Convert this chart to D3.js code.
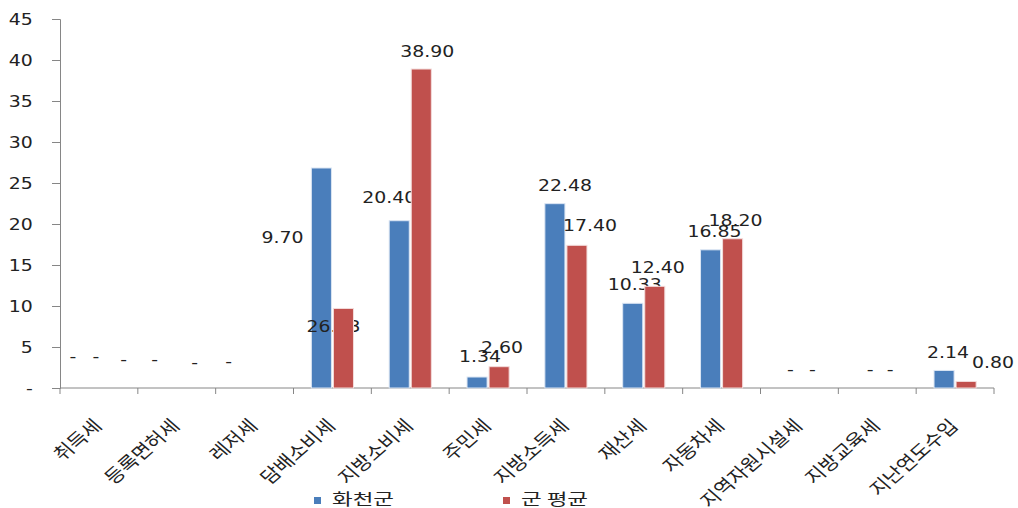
<!DOCTYPE html>
<html>
<head>
<meta charset="utf-8">
<script src="https://cdn.jsdelivr.net/npm/d3@7/dist/d3.min.js"></script>
<style>
	body { margin: 0; background: #fff; }
	svg { display: block; }
</style>
</head>
<body>
<svg width="1018" height="508"></svg>
<script>
var categories = ["취득세", "등록면허세", "레저세", "담배소비세", "지방소비세", "주민세", "지방소득세", "재산세", "자동차세", "지역자원시설세", "지방교육세", "지난연도수입"];
var seriesNames = ["화천군", "군 평균"];
var hwacheon = [0, 0, 0, 26.83, 20.40, 1.34, 22.48, 10.33, 16.85, 0, 0, 2.14];
var gunAvg = [0, 0, 0, 9.70, 38.90, 2.60, 17.40, 12.40, 18.20, 0, 0, 0.80];
var yTicks = [0, 5, 10, 15, 20, 25, 30, 35, 40, 45];
var colors = ["#4a7ebb", "#c0504d"];

// label nudges (pixels) - the source chart had hand-moved labels
var labelShift = [
	[[-15, -13], [-42, -10], [-49, -7], [12, 177], [-10, -5], [3, -2], [10, 0], [2, -1], [4, 0], [2, 0], [4, 0], [4, 0]],
	[[-14, -13], [-33, -10], [-37, -8], [-61, -53], [6, 0], [3, -1], [13, -2], [3, -1], [3, 0], [2, 0], [2, 0], [27, -1]]
];

var svg = d3.select("svg");
var mLeft = 60, mRight = 994, mTop = 19, mBottom = 388;
var sx = 1.18;

var x0 = d3.scaleBand().domain(categories).range([mLeft, mRight]).padding(0);
var x1 = d3.scaleBand().domain([0, 1]).range([0, x0.bandwidth()]).paddingInner(0.09).paddingOuter(0.81);
var y = d3.scaleLinear().domain([0, 45]).range([mBottom, mTop]);

var fmt = function(v) { return v === 0 ? "-" : d3.format(".2f")(v); };

// y axis
var yAxis = svg.append("g")
	.attr("transform", "translate(" + mLeft + ",0)")
	.call(d3.axisLeft(y).tickValues(yTicks).tickSize(8).tickPadding(15)
		.tickFormat(function(d) { return d === 0 ? "-" : d; }));
yAxis.select(".domain").attr("stroke", "#868686");
yAxis.selectAll(".tick line").attr("stroke", "#868686");
yAxis.selectAll(".tick text")
	.attr("font-family", "DejaVu Sans")
	.attr("font-size", 16)
	.attr("fill", "#222")
	.attr("transform", "scale(" + sx + ",1)");

// x axis
var xg = svg.append("g");
xg.append("line")
	.attr("x1", mLeft).attr("x2", mRight)
	.attr("y1", mBottom).attr("y2", mBottom)
	.attr("stroke", "#868686");
var bounds = categories.map(function(c) { return x0(c); }).concat([mRight]);
xg.selectAll("line.tk").data(bounds).enter().append("line")
	.attr("class", "tk")
	.attr("x1", function(d) { return d; }).attr("x2", function(d) { return d; })
	.attr("y1", mBottom).attr("y2", mBottom + 6)
	.attr("stroke", "#868686");
xg.selectAll("text").data(categories).enter().append("text")
	.attr("transform", function(d) {
		return "translate(" + (x0(d) + x0.bandwidth() / 2 + 4) + "," + 427 + ") scale(1.15,1) rotate(-45)";
	})
	.attr("text-anchor", "end")
	.attr("font-family", "Noto Sans CJK KR")
	.attr("font-size", 18)
	.attr("fill", "#222")
	.text(function(d) { return d; });

// bars
var series = [hwacheon, gunAvg];
series.forEach(function(vals, s) {
	var g = svg.append("g");
	g.selectAll("rect").data(vals).enter().append("rect")
		.attr("x", function(d, i) { return x0(categories[i]) + x1(s); })
		.attr("y", function(d) { return y(d); })
		.attr("width", x1.bandwidth())
		.attr("height", function(d) { return mBottom - y(d); })
		.attr("fill", colors[s])
		.attr("stroke", s === 0 ? "#dbe5f3" : "#f3dcdb")
		.attr("stroke-width", 1);

	g.selectAll("text").data(vals).enter().append("text")
		.attr("transform", function(d, i) {
			var cx = x0(categories[i]) + x1(s) + x1.bandwidth() / 2 + labelShift[s][i][0];
			var cy = y(d) - 18 + labelShift[s][i][1];
			return "translate(" + cx + "," + cy + ") scale(" + sx + ",1)";
		})
		.attr("text-anchor", "middle")
		.attr("dominant-baseline", "central")
		.attr("font-family", "DejaVu Sans")
		.attr("font-size", 16)
		.attr("fill", "#222")
		.text(function(d) { return fmt(d); });
});

// legend
var legend = svg.append("g");
var legX = [314, 503];
seriesNames.forEach(function(name, s) {
	legend.append("rect")
		.attr("x", legX[s]).attr("y", 497)
		.attr("width", 7).attr("height", 7)
		.attr("fill", colors[s]);
	legend.append("text")
		.attr("transform", "translate(" + (legX[s] + 18) + ",505) scale(1.45,1)")
		.attr("font-family", "Noto Sans CJK KR")
		.attr("font-size", 15.5)
		.attr("fill", "#222")
		.text(name);
});
</script>
</body>
</html>
